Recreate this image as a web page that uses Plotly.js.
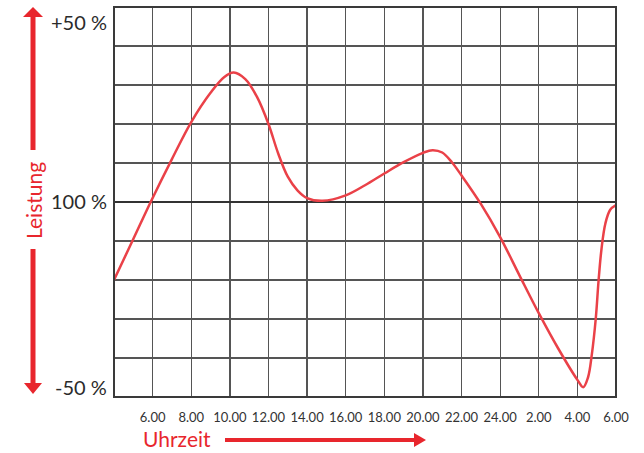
<!DOCTYPE html>
<html>
<head>
<meta charset="utf-8">
<script src="https://cdn.plot.ly/plotly-3.0.1.min.js"></script>
<style>html,body{margin:0;padding:0;background:#fff;}#chart{width:644px;height:453px;}</style>
</head>
<body>
<div id="chart"></div>
<script>
// Time in hours (continuing past midnight: 26 = 2.00, 28 = 4.00, 30 = 6.00)
const hours = [4.0, 5.0, 5.9, 7.0, 8.0, 9.0, 9.7, 10.2, 10.8, 11.4, 12.0, 12.5, 13.0, 13.5, 14.0, 14.8, 16.0, 17.0, 18.0, 19.0, 20.0, 20.5, 21.0, 21.5, 22.0, 23.0, 24.0, 25.0, 26.0, 27.0, 28.0, 28.3, 28.55, 28.75, 28.95, 29.1, 29.25, 29.45, 29.7, 30.0];
// Leistung relative to 100 % (in percentage points)
const leistung = [-20, -9.5, 0, 11, 20.5, 28, 32, 33.2, 31.5, 27, 20, 12.5, 6.5, 3, 1, 0.3, 1.7, 4.3, 7.3, 10.2, 12.6, 13.3, 12.7, 10.2, 6.8, -0.5, -9, -18.8, -28.5, -37.5, -45.6, -47.5, -45, -39, -30, -20, -12, -5.5, -2, -0.8];
const tickHours = [6, 8, 10, 12, 14, 16, 18, 20, 22, 24, 26, 28, 30];
const tickLabels = ["6.00", "8.00", "10.00", "12.00", "14.00", "16.00", "18.00", "20.00", "22.00", "24.00", "2.00", "4.00", "6.00"];
const yGrid = [-50, -40, -30, -20, -10, 0, 10, 20, 30, 40, 50];
const yLabels = [{v: 50, t: "+50 %"}, {v: 0, t: "100 %"}, {v: -50, t: "-50 %"}];

const W = 644, H = 453, L = 114, R = 616, T = 7, B = 397;
const px = x => (x - L) / (R - L);
const py = y => (B - y) / (B - T);
const RED = '#e8262d';
const FONT = 'Lato, "Open Sans", sans-serif';

const shapes = [
  // vertical arrow (top part)
  {type: 'line', xref: 'paper', yref: 'paper', x0: px(33), x1: px(33), y0: py(150), y1: py(16), line: {color: RED, width: 5}},
  {type: 'path', xref: 'paper', yref: 'paper', path: `M ${px(23)} ${py(17)} L ${px(33)} ${py(7)} L ${px(43)} ${py(17)} Z`, fillcolor: RED, line: {color: RED, width: 0}},
  // vertical arrow (bottom part)
  {type: 'line', xref: 'paper', yref: 'paper', x0: px(33), x1: px(33), y0: py(249), y1: py(384), line: {color: RED, width: 5}},
  {type: 'path', xref: 'paper', yref: 'paper', path: `M ${px(24)} ${py(383)} L ${px(33)} ${py(394)} L ${px(42)} ${py(383)} Z`, fillcolor: RED, line: {color: RED, width: 0}},
  // horizontal arrow
  {type: 'line', xref: 'paper', yref: 'paper', x0: px(225), x1: px(416), y0: py(440), y1: py(440), line: {color: RED, width: 4}},
  {type: 'path', xref: 'paper', yref: 'paper', path: `M ${px(414)} ${py(433)} L ${px(426)} ${py(440)} L ${px(414)} ${py(447)} Z`, fillcolor: RED, line: {color: RED, width: 0}},
  // plot border
  {type: 'rect', xref: 'paper', yref: 'paper', x0: 0, x1: 1, y0: 0, y1: 1, line: {color: '#3a3a3a', width: 2}}
];

const yPix = {"50": 22, "0": 201, "-50": 387};
const annotations = yLabels.map(o => ({
  xref: 'paper', yref: 'paper', x: px(109), y: py(yPix[String(o.v)]), xanchor: 'right', yanchor: 'middle',
  text: o.t, showarrow: false, font: {family: FONT, size: 20, color: '#2b2b2b'}
}));
annotations.push({
  xref: 'paper', yref: 'paper', x: px(33), y: py(201), xanchor: 'center', yanchor: 'middle',
  text: 'Leistung', textangle: -90, showarrow: false, font: {family: FONT, size: 21, color: RED}
});
annotations.push({
  xref: 'paper', yref: 'paper', x: px(141), y: py(438), xanchor: 'left', yanchor: 'middle',
  text: 'Uhrzeit', showarrow: false, font: {family: FONT, size: 21, color: RED}
});

const data = [{
  x: hours, y: leistung, type: 'scatter', mode: 'lines',
  line: {color: '#ea4148', width: 2.5, shape: 'spline', smoothing: 1},
  hoverinfo: 'skip'
}];

const layout = {
  width: W, height: H,
  margin: {l: L, r: W - R, t: T, b: H - B, pad: 0},
  paper_bgcolor: '#fff', plot_bgcolor: '#fff',
  showlegend: false,
  xaxis: {
    range: [4, 30], tickvals: tickHours, ticktext: tickLabels,
    showgrid: true, gridcolor: '#555', gridwidth: 1.3, zeroline: false, showline: false,
    ticks: 'outside', ticklen: 8, tickcolor: 'rgba(0,0,0,0)',
    tickfont: {family: FONT, size: 13, color: '#333'}
  },
  yaxis: {
    range: [-50, 50], tickvals: yGrid, showticklabels: false,
    showgrid: true, gridcolor: '#555', gridwidth: 1.3,
    zeroline: true, zerolinecolor: '#333', zerolinewidth: 2.2, showline: false
  },
  shapes: shapes,
  annotations: annotations
};

Plotly.newPlot('chart', data, layout, {staticPlot: true, displayModeBar: false});
</script>
</body>
</html>
